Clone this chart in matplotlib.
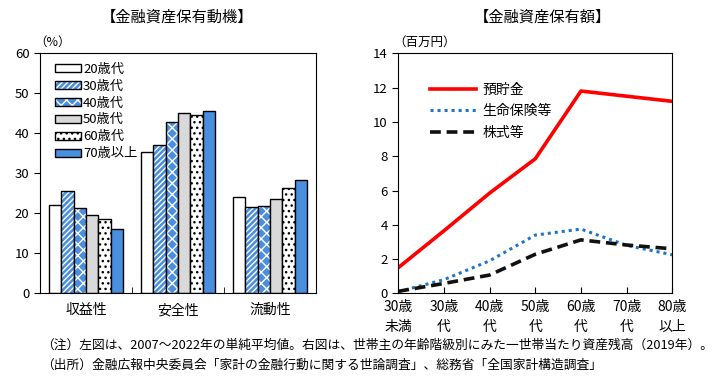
import matplotlib
matplotlib.use("Agg")
from matplotlib import pyplot as plt
from matplotlib.patches import Patch
from matplotlib.legend_handler import HandlerTuple
import numpy as np

plt.rcParams['font.family'] = ['Noto Sans CJK JP', 'DejaVu Sans']
plt.rcParams['hatch.linewidth'] = 1.0

# left chart data (%)
motives = ['収益性', '安全性', '流動性']
ages = ['20歳代', '30歳代', '40歳代', '50歳代', '60歳代', '70歳以上']
share = [
    [22.0, 35.4, 24.2],   # 20s
    [25.7, 37.1, 21.7],   # 30s
    [21.4, 42.9, 21.9],   # 40s
    [19.5, 45.1, 23.7],   # 50s
    [18.5, 44.6, 26.4],   # 60s
    [16.0, 45.6, 28.4],   # 70+
]

# right chart data (million yen)
age_labels = ['30歳\n未満', '30歳\n代', '40歳\n代', '50歳\n代', '60歳\n代', '70歳\n代', '80歳\n以上']
deposits = [1.5, 3.65, 5.85, 7.85, 11.8, 11.5, 11.2]
insurance = [0.1, 0.8, 1.9, 3.4, 3.75, 2.8, 2.25]
stocks = [0.12, 0.58, 1.07, 2.28, 3.12, 2.82, 2.6]

blue = '#4a8ede'
styles = [
    dict(facecolor='white', hatch=None, hcol='white'),
    dict(facecolor=blue, hatch='//////', hcol='white'),
    dict(facecolor=blue, hatch='xxx', hcol='white'),
    dict(facecolor='#d9d9d9', hatch=None, hcol='#d9d9d9'),
    dict(facecolor='white', hatch='...', hcol='black'),
    dict(facecolor=blue, hatch=None, hcol=blue),
]

fig = plt.figure(figsize=(7.12, 3.81), dpi=100)
ax1 = fig.add_axes([0.0562, 0.230, 0.3876, 0.630])
ax2 = fig.add_axes([0.5594, 0.230, 0.3848, 0.630])

x = np.arange(len(motives))
w = 0.8 / len(ages)
handles = []
for i, vals in enumerate(share):
    st = styles[i]
    pos = x - 0.4 + w * (i + 0.5)
    ax1.bar(pos, vals, w, color=st['facecolor'], edgecolor=st['hcol'],
            hatch=st['hatch'], linewidth=0)
    ax1.bar(pos, vals, w, fill=False, edgecolor='black', linewidth=1.0)
    p1 = Patch(facecolor=st['facecolor'], edgecolor=st['hcol'], hatch=st['hatch'], linewidth=0)
    p2 = Patch(fill=False, edgecolor='black', linewidth=1.0)
    handles.append((p1, p2))

ax1.set_xlim(-0.5, 2.5)
ax1.set_ylim(0, 60)
ax1.set_yticks(range(0, 61, 10))
ax1.set_xticks(x)
ax1.set_xticklabels(motives, fontsize=10)
ax1.set_xticks([0.5, 1.5], minor=True)
ax1.tick_params(axis='x', which='major', length=0, pad=7)
ax1.tick_params(axis='x', which='minor', direction='in', length=4)
ax1.tick_params(axis='y', direction='out', length=4, labelsize=9.5)
ax1.legend(handles, ages, handler_map={tuple: HandlerTuple(ndivide=1)},
           loc='upper left', bbox_to_anchor=(0.02, 1.0), frameon=False,
           fontsize=9.5, handlelength=2.0, handleheight=0.6,
           handletextpad=0.15, labelspacing=0.3, borderaxespad=0.3)
ax1.text(-0.02, 1.02, '（%）', transform=ax1.transAxes, fontsize=9, ha='left', va='bottom')
fig.text(0.248, 0.955, '【金融資産保有動機】', ha='center', va='center', fontsize=11)

# right chart
xr = np.arange(len(age_labels))
ax2.plot(xr, deposits, color='#ff0000', lw=2.6, label='預貯金')
ax2.plot(xr, insurance, color='#1f77c4', lw=2.2, linestyle=(0, (1, 1.3)), label='生命保険等')
ax2.plot(xr, stocks, color='#111111', lw=2.6, linestyle=(0, (3, 1.6)), label='株式等')
ax2.set_xlim(0, 6)
ax2.set_ylim(0, 14)
ax2.set_yticks(range(0, 15, 2))
ax2.set_xticks(xr)
ax2.set_xticklabels(age_labels, fontsize=10, linespacing=1.5)
ax2.tick_params(axis='x', direction='in', length=4, pad=5)
ax2.tick_params(axis='y', direction='out', length=4, labelsize=9.5)
ax2.legend(loc='upper left', bbox_to_anchor=(0.07, 0.93), frameon=False, fontsize=10,
           handlelength=3.3, handletextpad=0.5, labelspacing=0.55)
ax2.text(-0.02, 1.02, '（百万円）', transform=ax2.transAxes, fontsize=9, ha='left', va='bottom')
fig.text(0.762, 0.955, '【金融資産保有額】', ha='center', va='center', fontsize=11)

fig.text(0.058, 0.095, '（注）左図は、2007～2022年の単純平均値。右図は、世帯主の年齢階級別にみた一世帯当たり資産残高（2019年）。',
         fontsize=9.2, ha='left', va='center')
fig.text(0.058, 0.040, '（出所）金融広報中央委員会「家計の金融行動に関する世論調査」、総務省「全国家計構造調査」',
         fontsize=9.2, ha='left', va='center')

fig.savefig('out.png', dpi=100)
